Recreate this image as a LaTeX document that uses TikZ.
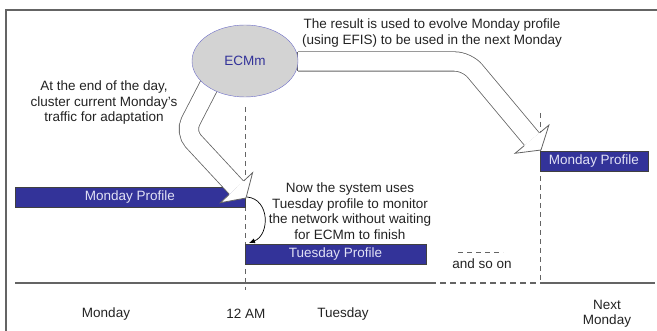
\documentclass[tikz,border=0pt]{standalone}
\usepackage{fontspec}
\setmainfont{Liberation Sans}
\usetikzlibrary{shapes.geometric, arrows.meta}
\definecolor{barBlue}{RGB}{51, 51, 153}
\definecolor{barText}{RGB}{225, 225, 245}
\definecolor{ecmFill}{RGB}{211, 211, 211}
\definecolor{ecmLine}{RGB}{110, 110, 200}
\definecolor{lineGray}{RGB}{100, 100, 100}
\definecolor{noteColor}{RGB}{35, 35, 35}
\tikzset{
    profile_bar/.style={
        draw=black!75,
        thin,
        fill=barBlue,
        text=barText,
        minimum height=20,
        inner sep=0pt
    },
    ecm_node/.style={
        ellipse,
        draw=ecmLine,
        thin,
        fill=ecmFill,
        text=barBlue,
        minimum width=106,
        minimum height=72,
        inner sep=0pt
    },
    block_arrow/.style={
        draw=lineGray,
        line width=0.8pt,
        double=white,
        double distance=18.5pt,
        rounded corners=12pt
    },
    block_head/.style={
        draw=lineGray,
        line width=0.8pt,
        fill=white,
        line join=miter
    },
    time_line/.style={
        draw=lineGray,
        line width=1.1pt
    },
    marker_line/.style={
        draw=lineGray,
        line width=0.9pt,
        dash pattern=on 5pt off 4pt
    },
    caption_text/.style={
        align=center,
        text=noteColor,
        inner sep=0pt
    },
    switch_arrow/.style={
        -{Latex[length=6pt,width=5pt]},
        draw=black,
        line width=0.7pt
    }
}

\begin{document}
\begin{tikzpicture}[x=1pt, y=-1pt, font=\fontsize{13.5}{15.5}\selectfont]
    \useasboundingbox (0,0) rectangle (657,331);
    % frame
    \draw[lineGray, line width=1.2pt] (6,331) -- (6,10) -- (657,10);

    % time axis
    \coordinate (axis_start) at (15,283);
    \coordinate (axis_dash) at (430,283);
    \coordinate (axis_next) at (540,283);
    \coordinate (axis_end) at (655,283);
    \draw[time_line] (axis_start) -- (axis_dash);
    \draw[time_line, dash pattern=on 6pt off 4pt] (axis_dash) -- (axis_next);
    \draw[time_line] (axis_next) -- (axis_end);

    % day boundaries
    \coordinate (midnight_top) at (245,107);
    \coordinate (midnight_bot) at (245,290);
    \coordinate (next_top) at (540,113);
    \draw[marker_line] (midnight_top) -- (midnight_bot);
    \draw[marker_line] (next_top) -- (axis_next);

    % profiles
    \node[profile_bar, minimum width=230] (mon) at (130,197) {Monday Profile};
    \node[profile_bar, minimum width=181] (tue) at (335.5,254) {Tuesday Profile};
    \node[profile_bar, minimum width=108] (next_mon) at (594,161) {Monday Profile};

    % block arrows out of ECMm
    \coordinate (ecm_out) at (214,76);
    \draw[block_arrow] (ecm_out) -- (185,132.2) -- (236.5,187.7);
    \filldraw[block_head] (229.2,194.5) -- (220.4,202.7) -- (246,198)
        -- (252.6,172.7) -- (243.8,180.9);
    \coordinate (evolve_out) at (298,61.5);
    \draw[block_arrow] (evolve_out) -- (467,61.5) -- (532,139.2);
    \filldraw[block_head] (524.3,145.6) -- (515.1,153.3) -- (541,150)
        -- (548.9,125.1) -- (539.7,132.8);
    \draw[draw=lineGray, line width=0.8pt] (297.6,52) -- (297.6,71);

    \node[ecm_node] (ecm) at (245,61) {ECMm};

    % switch to Tuesday profile
    \coordinate (mon_end) at (247,197);
    \coordinate (tue_start) at (249,243);
    \draw[switch_arrow] (mon_end) .. controls (270,199) and (270,235) .. (tue_start);

    % notes
    \node[caption_text] (adapt_note) at (104,103)
        {At the end of the day,\\cluster current Monday's\\traffic for adaptation};
    \node[caption_text] (evolve_note) at (432,33)
        {The result is used to evolve Monday profile\\(using EFIS) to be used in the next Monday};
    \node[caption_text] (switch_note) at (350,211)
        {Now the system uses\\Tuesday profile to monitor\\the network without waiting\\for ECMm to finish};
    \node[caption_text] (so_on) at (482,264) {and so on};
    \draw[marker_line] (458,252) -- (503,252);

    % days
    \node[caption_text] (day_mon) at (106,314) {Monday};
    \node[caption_text] (day_midnight) at (246,314) {12 AM};
    \node[caption_text] (day_tue) at (343,314) {Tuesday};
    \node[caption_text] (day_next) at (607,314) {Next\\Monday};
\end{tikzpicture}
\end{document}
